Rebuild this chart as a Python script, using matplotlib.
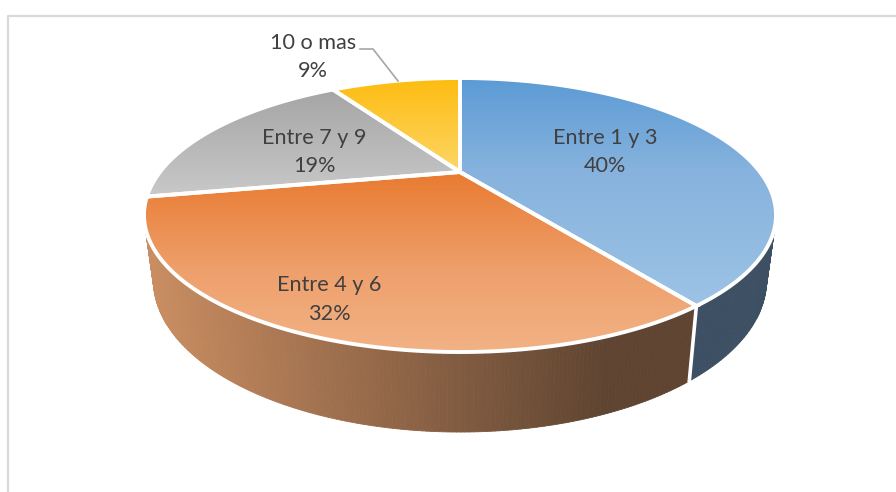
import numpy as np
import matplotlib.pyplot as plt
from matplotlib.collections import PolyCollection
from matplotlib.colors import LinearSegmentedColormap, to_rgb
from matplotlib.patches import Polygon

labels = ['Entre 1 y 3', 'Entre 4 y 6', 'Entre 7 y 9', '10 o mas']
values = [40, 32, 19, 9]
top_colors = [
    [(0, '#5b9bd5'), (0.4, '#86b2dd'), (1, '#9dc3e6')],
    [(0, '#e97a30'), (0.55, '#eea06c'), (1, '#f2b285')],
    [(0, '#a5a5a5'), (1, '#c9c9c9')],
    [(0, '#fdbc10'), (1, '#fdd666')],
]
side_colors = [('#3d5063', '#3d5063'), ('#c98d61', '#5f4431'), None, None]
label_pos = [(605, 152), (329, 299.5), (314, 152), (313, 57)]

# perspective of the pie, in pixels of the picture
cx, cy = 460, 172
a, b, k = 300, 123.5, 0.314
shrink = 0.03
depth = 80
depth_slope = 0.106


def project(t, low=False):
    x = np.sin(t)
    y = -np.cos(t)
    d = 1 - k * y
    sx = cx + a * x / d
    sy = cy + b * y / d
    if low:
        sx = cx + (sx - cx) * (1 - shrink)
        sy = sy + depth - depth_slope * (352 - sy)
    return sx, sy


fig = plt.figure(figsize=(8.96, 4.92), dpi=100)
ax = fig.add_axes([0, 0, 1, 1])
ax.axis('off')

ax.plot([8, 8, 896], [492, 16, 16], color='#d9d9d9', lw=1.6, zorder=1)

edges = np.cumsum([0] + values) / sum(values) * 2 * np.pi

# sides first, the tops go over them
for i in range(len(values)):
    if side_colors[i] is None:
        continue
    c0 = np.array(to_rgb(side_colors[i][0]))
    c1 = np.array(to_rgb(side_colors[i][1]))
    ts = np.linspace(edges[i], edges[i + 1], 200)
    quads = []
    cols = []
    for t0, t1 in zip(ts[:-1], ts[1:]):
        q = [project(t0), project(t1), project(t1, True), project(t0, True)]
        quads.append(q)
        f = np.clip((q[0][0] - 150) / (610 - 150), 0, 1)
        cols.append(c0 + (c1 - c0) * f)
    ax.add_collection(PolyCollection(quads, facecolors=cols, edgecolors=cols, linewidths=0.6, zorder=2))

p0 = project(edges[1])
p1 = project(edges[1], True)
ax.plot([p0[0], p1[0]], [p0[1], p1[1]], color='white', lw=2.6, zorder=3)

for i in range(len(values)):
    ts = np.linspace(edges[i], edges[i + 1], 200)
    sx, sy = project(ts)
    pts = np.column_stack([np.r_[cx, sx], np.r_[cy, sy]])
    cmap = LinearSegmentedColormap.from_list('g', top_colors[i])
    grad = np.linspace(0, 1, 256).reshape(-1, 1)
    im = ax.imshow(grad, cmap=cmap, aspect='auto', zorder=4, interpolation='bilinear',
                   extent=[pts[:, 0].min(), pts[:, 0].max(), pts[:, 1].max(), pts[:, 1].min()])
    patch = Polygon(pts, closed=True, facecolor='none', edgecolor='white', lw=2.8, joinstyle='miter', zorder=5)
    ax.add_patch(patch)
    im.set_clip_path(patch)

ax.plot([360, 373, 398], [49, 49, 81], color='#a6a6a6', lw=1.2, zorder=6)

for lab, val, pos in zip(labels, values, label_pos):
    ax.text(pos[0], pos[1], f'{lab}\n{val}%', ha='center', va='center', fontsize=15.6, family='Lato',
            color='#404040', linespacing=1.55, zorder=7)

ax.set_xlim(0, 896)
ax.set_ylim(492, 0)
fig.savefig('out.png', dpi=100)
